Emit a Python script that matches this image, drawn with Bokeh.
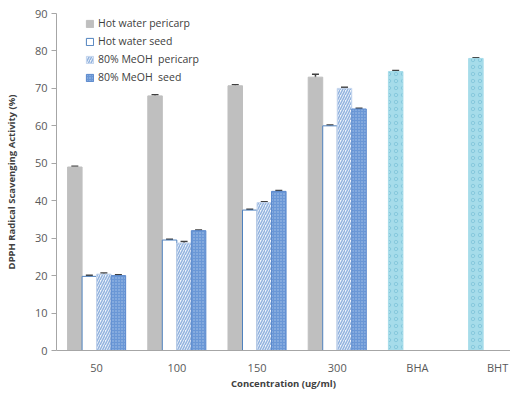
from bokeh.plotting import figure
from bokeh.models import ColumnDataSource, FixedTicker, Legend, LegendItem, Whisker, TeeHead
from bokeh.embed import file_html
from bokeh.resources import INLINE

categories = ["50", "100", "150", "300", "BHA", "BHT"]
conc = ["50", "100", "150", "300"]
hw_pericarp = [49.0, 68.0, 70.7, 73.0]
hw_pericarp_err = [0.2, 0.3, 0.3, 0.8]
hw_seed = [19.8, 29.5, 37.5, 60.0]
hw_seed_err = [0.3, 0.2, 0.2, 0.2]
meoh_pericarp = [20.4, 28.7, 39.5, 70.0]
meoh_pericarp_err = [0.3, 0.4, 0.2, 0.3]
meoh_seed = [20.0, 32.0, 42.5, 64.5]
meoh_seed_err = [0.2, 0.2, 0.2, 0.2]
standards = ["BHA", "BHT"]
std_values = [74.5, 78.0]
std_err = [0.3, 0.2]

W = 0.181
x_conc = [categories.index(c) for c in conc]
x_std = [categories.index(c) for c in standards]

FH = 338
p = figure(width=510, height=392, output_backend="svg", toolbar_location=None,
           x_range=(-0.5, 5.16), y_range=(0, 90),
           min_border_left=56, min_border_right=0, min_border_top=13, min_border_bottom=20)
p.xgrid.visible = False
p.ygrid.visible = False
p.outline_line_color = None

series = [
    (hw_pericarp, hw_pericarp_err, -1.5, dict(fill_color="#BFBFBF", line_color="#BFBFBF")),
    (hw_seed, hw_seed_err, -0.5, dict(fill_color="white", line_color="#4F81BD", line_width=1)),
    (meoh_pericarp, meoh_pericarp_err, 0.5, dict(fill_color="#F0F5FB", line_color="#C5D6EE",
                                                  hatch_pattern="/", hatch_color="#93B3DF",
                                                  hatch_scale=5, hatch_weight=1.5)),
    (meoh_seed, meoh_seed_err, 1.5, dict(fill_color="#6A97D6", line_color="#5A88CC",
                                          hatch_pattern="dot", hatch_color="#A9C4EA",
                                          hatch_scale=3, hatch_weight=1)),
]

def add_err(src):
    p.add_layout(Whisker(base="x", lower="lo", upper="hi", source=src, line_color="#404040",
                         line_width=1.5,
                         upper_head=TeeHead(size=7, line_color="#404040", line_width=1.5),
                         lower_head=TeeHead(size=7, line_color="#404040", line_width=1.5)))

renderers = []
for vals, errs, off, style in series:
    xs = [x + off * W for x in x_conc]
    src = ColumnDataSource(dict(x=xs, top=vals, lo=[v - e for v, e in zip(vals, errs)],
                                hi=[v + e for v, e in zip(vals, errs)]))
    r = p.vbar(x="x", top="top", width=W, bottom=0, source=src, **style)
    renderers.append(r)
    add_err(src)

xs_std = [x - 1.5 * W for x in x_std]
ssrc = ColumnDataSource(dict(x=xs_std, top=std_values,
                             lo=[v - e for v, e in zip(std_values, std_err)],
                             hi=[v + e for v, e in zip(std_values, std_err)]))
p.vbar(x="x", top="top", width=W, bottom=0, source=ssrc, fill_color="#A6DCEA",
       line_color="#A6DCEA", hatch_pattern="o", hatch_color="#86C8DC", hatch_scale=7,
       hatch_weight=1)
add_err(ssrc)

labels = ["Hot water pericarp", "Hot water seed", "80% MeOH  pericarp", "80% MeOH  seed"]
legend = Legend(items=[LegendItem(label=l, renderers=[r]) for l, r in zip(labels, renderers)],
                location=(29, FH - 72), background_fill_alpha=0, border_line_color=None,
                label_text_font="Open Sans", label_text_font_size="10.5px",
                label_text_color="#404040", glyph_width=9, glyph_height=9,
                label_standoff=4, spacing=4, padding=0, label_height=13, margin=0)
p.add_layout(legend, "center")

p.xaxis.ticker = FixedTicker(ticks=list(range(len(categories))))
p.xaxis.major_label_overrides = {i: c for i, c in enumerate(categories)}
p.xaxis.major_tick_line_color = None
p.xaxis.major_tick_out = 0
p.xaxis.major_tick_in = 0
p.xaxis.minor_tick_line_color = None
p.xaxis.axis_line_color = "#A6A6A6"
p.xaxis.major_label_standoff = 9
p.xaxis.axis_label = "Concentration (ug/ml)"
p.xaxis.axis_label_standoff = -1

p.yaxis.ticker = FixedTicker(ticks=list(range(0, 91, 10)))
p.yaxis.axis_line_color = "#A6A6A6"
p.yaxis.major_tick_line_color = "#A6A6A6"
p.yaxis.major_tick_out = 5
p.yaxis.major_tick_in = 0
p.yaxis.minor_tick_line_color = None
p.yaxis.major_label_standoff = 4
p.yaxis.axis_label = "DPPH Radical Scavenging Activity (%)"
p.yaxis.axis_label_standoff = 14

for ax in (p.xaxis, p.yaxis):
    ax.major_label_text_font = "Open Sans"
    ax.major_label_text_font_size = "11px"
    ax.major_label_text_color = "#595959"
    ax.axis_label_text_font = "Open Sans"
    ax.axis_label_text_font_size = "9.5px"
    ax.axis_label_text_font_style = "bold"
    ax.axis_label_text_color = "#404040"

open("out.html", "w").write(file_html(p, INLINE))
